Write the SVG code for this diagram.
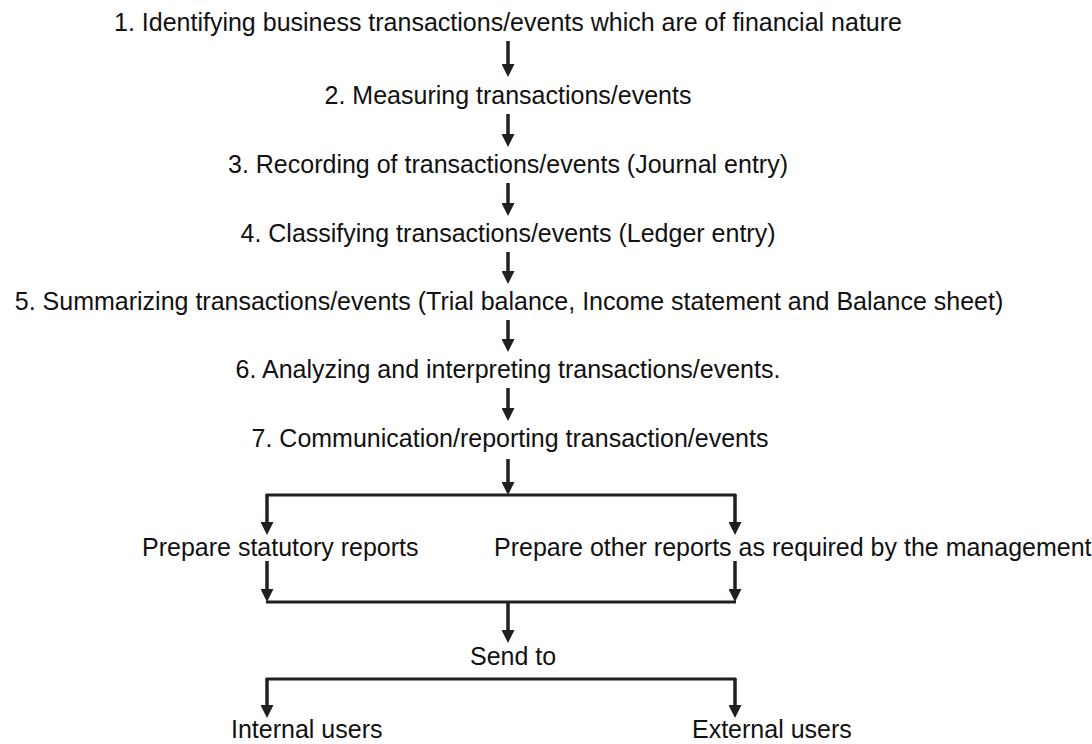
<svg xmlns="http://www.w3.org/2000/svg" width="1092" height="744" viewBox="0 0 1092 744">
  <style>
    .t { font-family: "Liberation Sans", Arial, Helvetica, sans-serif; font-size: 25px; fill: #111; }
    .c { text-anchor: middle; }
    .ln { stroke: #231f20; stroke-width: 3; fill: none; }
    .ar { stroke: #231f20; stroke-width: 3.5; fill: none; marker-end: url(#ah); }
  </style>
  <defs>
    <marker id="ah" viewBox="0 0 13 13" refX="1" refY="6.5" markerWidth="13" markerHeight="13" markerUnits="userSpaceOnUse" orient="auto">
      <path d="M0,0 L13,6.5 L0,13 z" fill="#231f20"/>
    </marker>
  </defs>
  <rect width="1092" height="744" fill="#fff"/>

  <g id="connectors">
    <line class="ar" x1="508" y1="41" x2="508" y2="65"/>
    <line class="ar" x1="508" y1="114" x2="508" y2="135"/>
    <line class="ar" x1="508" y1="183" x2="508" y2="204"/>
    <line class="ar" x1="508" y1="252" x2="508" y2="272"/>
    <line class="ar" x1="508" y1="320" x2="508" y2="340"/>
    <line class="ar" x1="508" y1="388" x2="508" y2="409"/>
    <line class="ar" x1="508" y1="459" x2="508" y2="483"/>
    <line class="ln" x1="266" y1="495" x2="736" y2="495"/>
    <line class="ar" x1="267" y1="494" x2="267" y2="523"/>
    <line class="ar" x1="735" y1="494" x2="735" y2="523"/>
    <line class="ar" x1="267" y1="561" x2="267" y2="590"/>
    <line class="ar" x1="735" y1="561" x2="735" y2="590"/>
    <line class="ln" x1="266" y1="602" x2="736" y2="602"/>
    <line class="ar" x1="508" y1="602" x2="508" y2="631"/>
    <line class="ln" x1="266" y1="679" x2="736" y2="679"/>
    <line class="ar" x1="267" y1="678" x2="267" y2="706"/>
    <line class="ar" x1="735" y1="678" x2="735" y2="706"/>
  </g>

  <g id="step1"><text class="t c" x="508" y="31">1. Identifying business transactions/events which are of financial nature</text></g>
  <g id="step2"><text class="t c" x="508" y="104">2. Measuring transactions/events</text></g>
  <g id="step3"><text class="t c" x="508" y="173">3. Recording of transactions/events (Journal entry)</text></g>
  <g id="step4"><text class="t c" x="508" y="242">4. Classifying transactions/events (Ledger entry)</text></g>
  <g id="step5"><text class="t c" x="509" y="310">5. Summarizing transactions/events (Trial balance, Income statement and Balance sheet)</text></g>
  <g id="step6"><text class="t c" x="508" y="378">6. Analyzing and interpreting transactions/events.</text></g>
  <g id="step7"><text class="t c" x="510" y="447">7. Communication/reporting transaction/events</text></g>
  <g id="statutory"><text class="t" x="142" y="556">Prepare statutory reports</text></g>
  <g id="other"><text class="t" x="494" y="556">Prepare other reports as required by the management</text></g>
  <g id="sendto"><text class="t" x="470" y="665">Send to</text></g>
  <g id="internal"><text class="t" x="231" y="738">Internal users</text></g>
  <g id="external"><text class="t" x="692" y="738">External users</text></g>
</svg>
